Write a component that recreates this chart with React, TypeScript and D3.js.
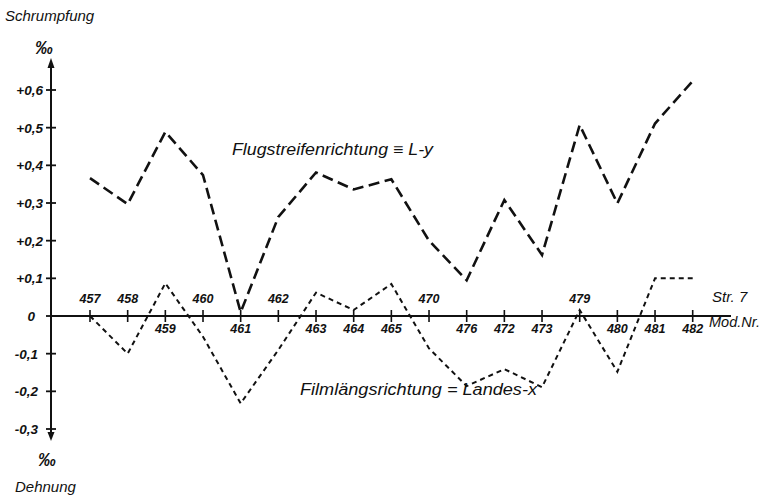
import React from 'react';
import * as d3 from 'd3';

// model numbers along strip 7, in the order they were drawn
const modelNumbers = ['457', '458', '459', '460', '461', '462', '463', '464', '465', '470', '476', '472', '473', '479', '480', '481', '482'];
const labelsAbove = ['457', '458', '460', '462', '470', '479'];

// shrinkage (+) / stretch (-) in per mille
const flugstreifen = [0.366, 0.297, 0.489, 0.374, 0.01, 0.263, 0.381, 0.336, 0.363, 0.2, 0.095, 0.308, 0.162, 0.507, 0.299, 0.511, 0.624];
const filmlaengs = [0.0, -0.1, 0.087, -0.055, -0.232, -0.09, 0.062, 0.016, 0.085, -0.086, -0.186, -0.141, -0.189, 0.016, -0.148, 0.1, 0.1];

const yTicks = [0.6, 0.5, 0.4, 0.3, 0.2, 0.1, 0, -0.1, -0.2, -0.3];
const yTickLabels = ['+0,6', '+0,5', '+0,4', '+0,3', '+0,2', '+0,1', '0', '-0,1', '-0,2', '-0,3'];

const W = 761;
const H = 499;
const font = '"Liberation Sans", "DejaVu Sans", sans-serif';
const ink = '#111';

export default function App() {
  const x = d3.scalePoint<string>().domain(modelNumbers).range([90, 692.7]);
  const y = d3.scaleLinear().domain([-0.3, 0.6]).range([429, 90]);
  const axisX = 51;
  const y0 = y(0);

  const line = d3.line<number>()
    .x((_, i) => x(modelNumbers[i]) as number)
    .y(d => y(d));

  return (
    <svg width={W} height={H} style={{ position: 'absolute', left: 0, top: 0, background: '#fff' }}
      fontFamily={font} fill={ink}>
      <rect width={W} height={H} fill="#fff" />

      {/* y axis with arrows at both ends */}
      <line x1={axisX} x2={axisX} y1={64} y2={436} stroke={ink} strokeWidth={2} />
      <path d={`M${axisX},58 L${axisX - 3.5},68 L${axisX + 3.5},68 Z`} fill={ink} />
      <path d={`M${axisX},441 L${axisX - 3.5},432 L${axisX + 3.5},432 Z`} fill={ink} />
      {yTicks.map((t, i) => (
        <g key={t}>
          <line x1={axisX - 5} x2={axisX + 5} y1={y(t)} y2={y(t)} stroke={ink} strokeWidth={1.8} />
          <text x={t === 0 ? 35 : (t < 0 ? 38 : 43)} y={y(t) + 5} textAnchor="end" fontSize={13.5}
            fontStyle="italic" fontWeight="bold">{yTickLabels[i]}</text>
        </g>
      ))}

      {/* x axis */}
      <line x1={axisX} x2={731} y1={y0} y2={y0} stroke={ink} strokeWidth={1.8} />
      {modelNumbers.map(m => {
        const above = labelsAbove.includes(m);
        return (
          <g key={m}>
            <line x1={x(m)} x2={x(m)} y1={y0 - 6} y2={y0 + 6} stroke={ink} strokeWidth={1.6} />
            <text x={x(m)} y={above ? y0 - 13 : y0 + 17} textAnchor="middle" fontSize={12.5}
              fontStyle="italic" fontWeight="bold">{m}</text>
          </g>
        );
      })}

      {/* series */}
      <path d={line(flugstreifen) || ''} fill="none" stroke={ink} strokeWidth={2.6} strokeDasharray="11 5.5" />
      <path d={line(filmlaengs) || ''} fill="none" stroke={ink} strokeWidth={2} strokeDasharray="5 4" />

      {/* annotations */}
      <text x={232} y={155} fontSize={16} fontStyle="italic" textLength={201} lengthAdjust="spacingAndGlyphs">Flugstreifenrichtung ≡ L-y</text>
      <text x={300} y={395} fontSize={16} fontStyle="italic" textLength={237} lengthAdjust="spacingAndGlyphs">Filmlängsrichtung = Landes-x</text>

      <text x={5} y={21} fontSize={15} fontStyle="italic">Schrumpfung</text>
      <text x={35} y={54} fontSize={18} fontStyle="italic" fontWeight="bold">‰</text>
      <text x={38} y={466} fontSize={18} fontStyle="italic" fontWeight="bold">‰</text>
      <text x={15} y={492} fontSize={15} fontStyle="italic">Dehnung</text>

      <text x={712} y={302} fontSize={15} fontStyle="italic">Str. 7</text>
      <text x={709} y={327} fontSize={14.5} fontStyle="italic">Mod.Nr.</text>
    </svg>
  );
}
